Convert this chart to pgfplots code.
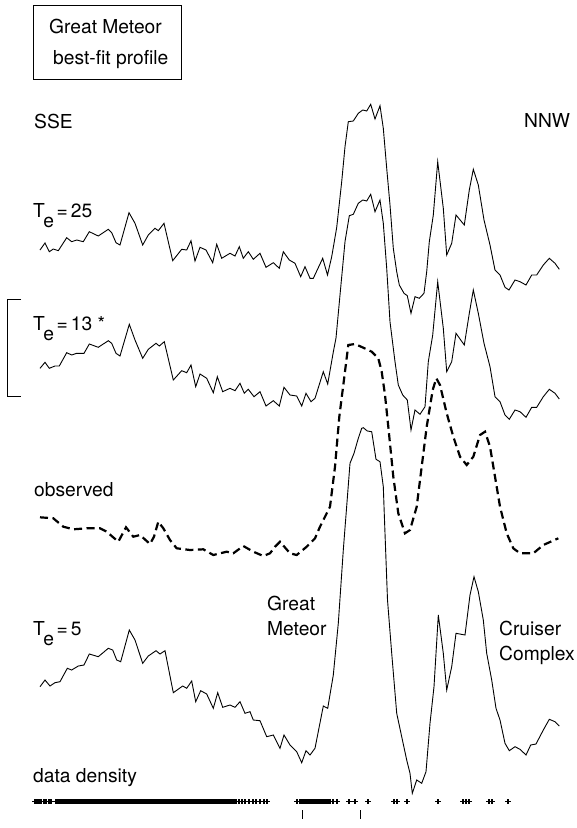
\documentclass[border=0pt]{standalone}
\usepackage{pgfplots}
\pgfplotsset{compat=1.18}
\usepackage{fontspec}
\setmainfont{TeX Gyre Heros}
\newcommand{\lbl}{\fontsize{19.3}{22}\selectfont}
\newcommand{\Te}[1]{T\kern-1.5bp\raisebox{-10bp}{e}\kern2.5bp=\kern3bp#1}
\begin{document}
\begin{tikzpicture}
\begin{axis}[width=577bp,height=828bp,scale only axis,
  xmin=0,xmax=577,ymin=0,ymax=828,y dir=reverse,
  hide axis,clip=false]
\path (rel axis cs:0,0) rectangle (rel axis cs:1,1);
% T_e = 25
\addplot[black,line width=0.9bp,mark=none] coordinates {
(40,250) (45,243) (49.3,251.7) (53.3,249) (58.3,250.7) (66.7,237.7) (71.7,241.7) (76.7,240) (83.3,241.7) (89.3,231.7) (98.3,236) (108.3,229.3) (111.7,232.7) (116,242.7) (120,245) (129,212.7) (135,223.3) (142.7,245) (148.3,235) (155,228.3) (158.3,230.7) (164,223.3) (172.7,260.7) (181.7,249.3) (186.7,250) (191,240.7) (195,261) (200,247.3) (206,250) (212.7,262.7) (216.7,244.3) (221.7,258.3) (230,253.3) (235,256) (239.3,246.7) (243.3,258.3) (248.3,251.7) (253.3,259.3) (260,253.3) (266,267.3) (273.3,262.7) (279.3,268.3) (283.3,251.7) (289.3,260) (295,263.3) (300.7,276.7) (305,266.7) (310,278.3) (313.3,278.3) (322.7,258.3) (327.5,275) (331.7,256.7) (336.7,227.5) (341.7,181.7) (345,146.7) (348.3,121.7) (353.3,121) (358.3,113.3) (362.7,110) (366.7,111) (370.7,104.3) (375,119) (380,105.7) (383.3,128.3) (386.7,168.3) (390,205) (393.3,248.3) (396.7,271.7) (399.3,285) (404,293.3) (407.3,295.7) (411,313.3) (415,296.7) (419.3,298.3) (424,293.3) (426.7,271.7) (429.3,241.7) (433.3,215) (437.7,161.7) (443.3,208.3) (446.7,255) (451.7,243.3) (456,215) (464.3,225) (469.3,190) (473.3,169.3) (478.3,185) (484,220) (490,245) (495,270) (500,275) (505,287.3) (509,290) (515,280) (520,281.7) (526,285) (531.7,275) (536.7,275) (543.3,265) (549.3,258.3) (555,263.3) (559.3,269.3)
};
% T_e = 13
\addplot[black,line width=0.9bp,mark=none] coordinates {
(40,368.3) (45,362.3) (49.3,368.3) (55,366) (59.3,366) (66.7,352.7) (71.7,355) (76.7,353.3) (84,353.3) (89.3,344) (98.3,347.3) (108.3,340.7) (111.7,343.3) (116,353.3) (120,356) (129.3,324.3) (135,340) (142.7,358.3) (148.3,349.3) (156,343.3) (159.3,346) (164.3,341.7) (173.3,380) (181.7,370.7) (186.7,372.7) (191,365) (195.7,386.7) (200,374) (206.7,378.3) (213.3,392.7) (217.3,376.7) (222.7,391.7) (230,388.3) (235,390.7) (240,383.3) (244.3,393.3) (248.3,389.3) (254,396.7) (260,391.7) (266,406) (273.3,400.7) (279.3,406) (284,387.3) (290,395) (296.7,396) (301.7,406) (306,393.3) (311,401.7) (315,398.3) (323.3,371.7) (327.7,384) (333.3,352) (336,338) (340,295) (345,241.7) (349.3,215.7) (353.3,214.3) (358.3,203.3) (362.7,200) (366.7,201) (370.7,194.3) (375,211.7) (380,200) (383.3,223.3) (386.7,268.3) (390,321.7) (395,361.7) (398.3,385) (402.7,395) (407.3,400) (411,430) (415,410) (420,414.3) (425,406.7) (428.3,361.7) (432.7,335) (437.7,281.7) (443.3,328.3) (446.7,371.7) (451.7,361.7) (456,333.3) (464.3,345) (469.3,313.3) (473.3,290) (478.3,313.3) (484,343.3) (490,366.7) (495,396.7) (500,401.7) (505,415) (509.3,419.3) (515,410) (520,411.7) (526,417.3) (531.7,407.3) (536.7,407.3) (543.3,396.7) (549.3,389.3) (555,393.3) (559.3,399)
};
% observed
\addplot[black,line width=2.2bp,dash pattern=on 8bp off 4.5bp,mark=none] coordinates {
(40,517.3) (53.3,518.3) (63.3,526.7) (73.3,529.3) (86.7,528.3) (100,528.3) (106.7,531.7) (118.3,541.7) (126,527.3) (133.3,536.7) (140,535) (150,544) (154,536.7) (158.3,521.7) (163.3,528.3) (170,540) (176.7,548.3) (190,550) (203.3,549.3) (213.3,555) (226.7,551.7) (233.3,553.3) (243.3,546) (253.3,551.7) (263.3,556) (270,553.3) (275,546.7) (280,541.7) (290,553.3) (296.7,555) (306.7,546.7) (315,538.3) (320,526.7) (330,506.7) (335,466.7) (339.3,416.7) (343.3,385) (348.3,345) (355,344) (363.3,347.7) (371.7,351.7) (378.3,358.3) (381.7,371.7) (385,395) (388.3,426.7) (393.3,476.7) (398.3,513.3) (405,533.3) (410,530) (416.7,506.7) (421.7,466.7) (426.7,426.7) (432.7,390) (436.3,378.3) (440,385) (446.7,413.3) (453.3,436.7) (460,456.7) (466.7,465) (473.3,456.7) (480,435) (485,431.7) (490,446.7) (495,476.7) (500,506.7) (506.7,533.3) (513.3,548.3) (520,553.3) (533.3,553.3) (543.3,545) (558.3,538.3)
};
% T_e = 5
\addplot[black,line width=0.9bp,mark=none] coordinates {
(40,686.7) (45,680) (50,686) (55,682.7) (60,681.7) (67.3,668.3) (71.7,670) (78.3,666) (84,665) (89.3,654) (98.3,656.7) (108.3,648.3) (112.7,650) (116.7,660) (120.7,661.7) (129.3,630) (135,640) (142.7,663.3) (148.3,656) (156,650.7) (160,654) (165,650.7) (173.3,692.7) (182.7,686) (186.7,688.3) (191.7,681) (195.7,701.7) (200.7,690.7) (206.7,694) (213.3,708.3) (217.7,692.7) (222.7,707.3) (230,705) (235,707.3) (240,701.7) (245,713.3) (250,711.7) (253.3,720) (260,720.7) (266.7,736.7) (273.3,735) (280,748.3) (284,735) (290,745) (296.7,751.7) (301.7,762.7) (306,750.7) (310,755) (315,748.3) (323.3,706) (327.7,708.3) (333.3,675) (338.3,623.3) (343.3,550) (350,463.3) (354,453.3) (358.3,438.3) (361.7,428.3) (363.3,427.7) (367.3,431) (371.7,431.7) (376,459.3) (380,461.7) (383.3,486.7) (384.5,520) (387.5,600) (391.7,653.3) (396.7,713.3) (401.7,736.7) (406.7,760) (410,773.3) (412.3,793.3) (416.7,780) (421.7,783.3) (426,771.7) (430,723.3) (434,686.7) (438.3,615) (443.3,653.3) (446.7,690) (451.7,666.7) (456,633.3) (465,635) (470,595) (474,576.7) (478.3,591.7) (483.3,620) (486.7,653.3) (491.7,680) (496,708.3) (500,720) (505,743.3) (509.3,750.7) (515,746.7) (520,749.3) (526,755) (530.7,745) (536,744) (543.3,730) (549.3,719.3) (555,721.7) (559.3,726)
};
% data density
\addplot[black,only marks,mark=+,mark size=2.7bp,mark options={line width=1.5bp}] coordinates {
(35,801.7) (37,801.7) (39,801.7) (41,801.7) (44,801.7) (46,801.7) (49,801.7) (51,801.7) (56,801.7) (58,801.7) (60,801.7) (62,801.7) (64,801.7) (66,801.7) (68,801.7) (70,801.7) (72,801.7) (74,801.7) (76,801.7) (78,801.7) (80,801.7) (82,801.7) (84,801.7) (86,801.7) (88,801.7) (90,801.7) (92,801.7) (94,801.7) (96,801.7) (98,801.7) (100,801.7) (102,801.7) (104,801.7) (106,801.7) (108,801.7) (110,801.7) (112,801.7) (114,801.7) (116,801.7) (118,801.7) (120,801.7) (122,801.7) (124,801.7) (126,801.7) (128,801.7) (130,801.7) (132,801.7) (134,801.7) (136,801.7) (138,801.7) (140,801.7) (142,801.7) (144,801.7) (146,801.7) (148,801.7) (150,801.7) (152,801.7) (154,801.7) (156,801.7) (158,801.7) (160,801.7) (162,801.7) (164,801.7) (166,801.7) (168,801.7) (170,801.7) (172,801.7) (174,801.7) (176,801.7) (178,801.7) (180,801.7) (182,801.7) (184,801.7) (186,801.7) (188,801.7) (190,801.7) (192,801.7) (194,801.7) (196,801.7) (198,801.7) (200,801.7) (202,801.7) (204,801.7) (206,801.7) (208,801.7) (210,801.7) (212,801.7) (214,801.7) (216,801.7) (218,801.7) (220,801.7) (222,801.7) (224,801.7) (226,801.7) (228,801.7) (230,801.7) (232,801.7) (234,801.7) (236,801.7) (239,801.7) (242,801.7) (245,801.7) (249,801.7) (253,801.7) (256,801.7) (260,801.7) (264,801.7) (267,801.7)
(297,801.7) (300,801.7) (302,801.7) (304,801.7) (306,801.7) (308,801.7) (310,801.7) (312,801.7) (314,801.7) (316,801.7) (318,801.7) (320,801.7) (322,801.7) (324,801.7) (326,801.7) (328,801.7) (330,801.7) (333,801.7) (337,801.7)
(349,801.7) (355,801.7) (368,801.7) (394,801.7) (397,801.7) (407,801.7) (438,801.7) (463,801.7) (466,801.7) (469,801.7) (489,801.7) (492,801.7) (508,801.7)
};
% small ticks
\addplot[black,line width=0.8bp,mark=none] coordinates {(302,810) (302,819)};
\addplot[black,line width=0.8bp,mark=none] coordinates {(360,810) (360,819)};
% scale bracket
\addplot[black,line width=0.8bp,mark=none] coordinates {(21,299) (7,299) (7,396) (21,396)};
% title box
\addplot[black,line width=0.9bp,mark=none] coordinates {(33,5) (181,5) (181,79) (33,79) (33,5)};
\node[anchor=base west,inner sep=0pt,font=\lbl] at (axis cs:49,33.3) {Great Meteor};
\node[anchor=base west,inner sep=0pt,font=\lbl] at (axis cs:53,64.3) {best-fit profile};
\node[anchor=base west,inner sep=0pt,font=\lbl] at (axis cs:34,129) {SSE};
\node[anchor=base west,inner sep=0pt,font=\lbl] at (axis cs:524,128) {NNW};
\node[anchor=base west,inner sep=0pt,font=\lbl] at (axis cs:33,217) {\Te{25}};
\node[anchor=base west,inner sep=0pt,font=\lbl] at (axis cs:33,330) {\Te{13} *};
\node[anchor=base west,inner sep=0pt,font=\lbl] at (axis cs:34,496) {observed};
\node[anchor=base west,inner sep=0pt,font=\lbl] at (axis cs:33,635) {\Te{5}};
\node[anchor=base west,inner sep=0pt,font=\lbl] at (axis cs:267,610) {Great};
\node[anchor=base west,inner sep=0pt,font=\lbl] at (axis cs:267,635) {Meteor};
\node[anchor=base west,inner sep=0pt,font=\lbl] at (axis cs:499,635) {Cruiser};
\node[anchor=base west,inner sep=0pt,font=\lbl] at (axis cs:499,660) {Complex};
\node[anchor=base west,inner sep=0pt,font=\lbl] at (axis cs:33,782) {data density};
\end{axis}
\end{tikzpicture}
\end{document}
